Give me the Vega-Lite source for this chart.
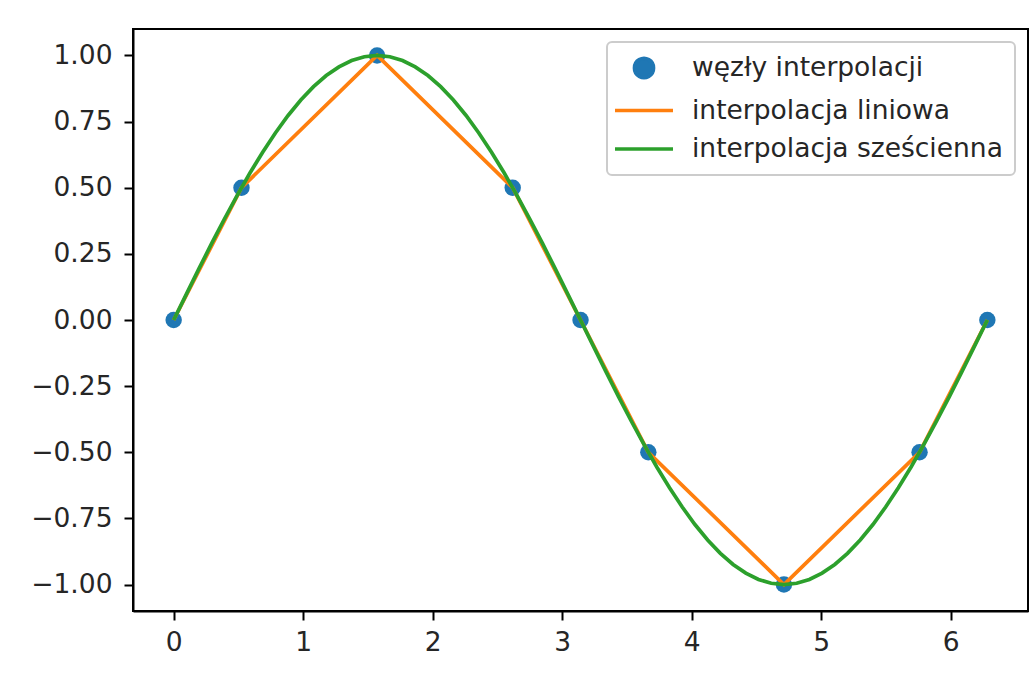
{
  "$schema": "https://vega.github.io/schema/vega-lite/v6.json",
  "width": 895,
  "height": 582,
  "autosize": "none",
  "padding": {"left": 133, "top": 29, "right": 8, "bottom": 62},
  "background": "white",
  "config": {
    "view": {"stroke": "#000000", "strokeWidth": 2},
    "axis": {
      "domainColor": "#000000",
      "domainWidth": 2,
      "tickColor": "#000000",
      "tickWidth": 2,
      "tickSize": 9,
      "labelFont": "DejaVu Sans",
      "labelFontSize": 26.5,
      "labelColor": "#262626",
      "grid": false,
      "title": null
    }
  },
  "datasets": {
    "nodes": [
      {"series": "węzły interpolacji", "x": 0, "y": 0},
      {"series": "węzły interpolacji", "x": 0.5236, "y": 0.5},
      {"series": "węzły interpolacji", "x": 1.5708, "y": 1},
      {"series": "węzły interpolacji", "x": 2.618, "y": 0.5},
      {"series": "węzły interpolacji", "x": 3.1416, "y": 0},
      {"series": "węzły interpolacji", "x": 3.6652, "y": -0.5},
      {"series": "węzły interpolacji", "x": 4.7124, "y": -1},
      {"series": "węzły interpolacji", "x": 5.7596, "y": -0.5},
      {"series": "węzły interpolacji", "x": 6.2832, "y": 0}
    ],
    "linear": [
      {"series": "interpolacja liniowa", "x": 0, "y": 0},
      {"series": "interpolacja liniowa", "x": 0.5236, "y": 0.5},
      {"series": "interpolacja liniowa", "x": 1.5708, "y": 1},
      {"series": "interpolacja liniowa", "x": 2.618, "y": 0.5},
      {"series": "interpolacja liniowa", "x": 3.1416, "y": 0},
      {"series": "interpolacja liniowa", "x": 3.6652, "y": -0.5},
      {"series": "interpolacja liniowa", "x": 4.7124, "y": -1},
      {"series": "interpolacja liniowa", "x": 5.7596, "y": -0.5},
      {"series": "interpolacja liniowa", "x": 6.2832, "y": 0}
    ],
    "cubic": [
      {"series": "interpolacja sześcienna", "x": 0, "y": 0},
      {"series": "interpolacja sześcienna", "x": 0.0982, "y": 0.098},
      {"series": "interpolacja sześcienna", "x": 0.1963, "y": 0.1951},
      {"series": "interpolacja sześcienna", "x": 0.2945, "y": 0.2903},
      {"series": "interpolacja sześcienna", "x": 0.3927, "y": 0.3827},
      {"series": "interpolacja sześcienna", "x": 0.4909, "y": 0.4714},
      {"series": "interpolacja sześcienna", "x": 0.589, "y": 0.5556},
      {"series": "interpolacja sześcienna", "x": 0.6872, "y": 0.6344},
      {"series": "interpolacja sześcienna", "x": 0.7854, "y": 0.7071},
      {"series": "interpolacja sześcienna", "x": 0.8836, "y": 0.773},
      {"series": "interpolacja sześcienna", "x": 0.9817, "y": 0.8315},
      {"series": "interpolacja sześcienna", "x": 1.0799, "y": 0.8819},
      {"series": "interpolacja sześcienna", "x": 1.1781, "y": 0.9239},
      {"series": "interpolacja sześcienna", "x": 1.2763, "y": 0.9569},
      {"series": "interpolacja sześcienna", "x": 1.3744, "y": 0.9808},
      {"series": "interpolacja sześcienna", "x": 1.4726, "y": 0.9952},
      {"series": "interpolacja sześcienna", "x": 1.5708, "y": 1},
      {"series": "interpolacja sześcienna", "x": 1.669, "y": 0.9952},
      {"series": "interpolacja sześcienna", "x": 1.7671, "y": 0.9808},
      {"series": "interpolacja sześcienna", "x": 1.8653, "y": 0.9569},
      {"series": "interpolacja sześcienna", "x": 1.9635, "y": 0.9239},
      {"series": "interpolacja sześcienna", "x": 2.0617, "y": 0.8819},
      {"series": "interpolacja sześcienna", "x": 2.1598, "y": 0.8315},
      {"series": "interpolacja sześcienna", "x": 2.258, "y": 0.773},
      {"series": "interpolacja sześcienna", "x": 2.3562, "y": 0.7071},
      {"series": "interpolacja sześcienna", "x": 2.4544, "y": 0.6344},
      {"series": "interpolacja sześcienna", "x": 2.5525, "y": 0.5556},
      {"series": "interpolacja sześcienna", "x": 2.6507, "y": 0.4714},
      {"series": "interpolacja sześcienna", "x": 2.7489, "y": 0.3827},
      {"series": "interpolacja sześcienna", "x": 2.8471, "y": 0.2903},
      {"series": "interpolacja sześcienna", "x": 2.9452, "y": 0.1951},
      {"series": "interpolacja sześcienna", "x": 3.0434, "y": 0.098},
      {"series": "interpolacja sześcienna", "x": 3.1416, "y": 0},
      {"series": "interpolacja sześcienna", "x": 3.2398, "y": -0.098},
      {"series": "interpolacja sześcienna", "x": 3.3379, "y": -0.1951},
      {"series": "interpolacja sześcienna", "x": 3.4361, "y": -0.2903},
      {"series": "interpolacja sześcienna", "x": 3.5343, "y": -0.3827},
      {"series": "interpolacja sześcienna", "x": 3.6325, "y": -0.4714},
      {"series": "interpolacja sześcienna", "x": 3.7306, "y": -0.5556},
      {"series": "interpolacja sześcienna", "x": 3.8288, "y": -0.6344},
      {"series": "interpolacja sześcienna", "x": 3.927, "y": -0.7071},
      {"series": "interpolacja sześcienna", "x": 4.0252, "y": -0.773},
      {"series": "interpolacja sześcienna", "x": 4.1233, "y": -0.8315},
      {"series": "interpolacja sześcienna", "x": 4.2215, "y": -0.8819},
      {"series": "interpolacja sześcienna", "x": 4.3197, "y": -0.9239},
      {"series": "interpolacja sześcienna", "x": 4.4179, "y": -0.9569},
      {"series": "interpolacja sześcienna", "x": 4.516, "y": -0.9808},
      {"series": "interpolacja sześcienna", "x": 4.6142, "y": -0.9952},
      {"series": "interpolacja sześcienna", "x": 4.7124, "y": -1},
      {"series": "interpolacja sześcienna", "x": 4.8106, "y": -0.9952},
      {"series": "interpolacja sześcienna", "x": 4.9087, "y": -0.9808},
      {"series": "interpolacja sześcienna", "x": 5.0069, "y": -0.9569},
      {"series": "interpolacja sześcienna", "x": 5.1051, "y": -0.9239},
      {"series": "interpolacja sześcienna", "x": 5.2033, "y": -0.8819},
      {"series": "interpolacja sześcienna", "x": 5.3014, "y": -0.8315},
      {"series": "interpolacja sześcienna", "x": 5.3996, "y": -0.773},
      {"series": "interpolacja sześcienna", "x": 5.4978, "y": -0.7071},
      {"series": "interpolacja sześcienna", "x": 5.596, "y": -0.6344},
      {"series": "interpolacja sześcienna", "x": 5.6941, "y": -0.5556},
      {"series": "interpolacja sześcienna", "x": 5.7923, "y": -0.4714},
      {"series": "interpolacja sześcienna", "x": 5.8905, "y": -0.3827},
      {"series": "interpolacja sześcienna", "x": 5.9887, "y": -0.2903},
      {"series": "interpolacja sześcienna", "x": 6.0868, "y": -0.1951},
      {"series": "interpolacja sześcienna", "x": 6.185, "y": -0.098},
      {"series": "interpolacja sześcienna", "x": 6.2832, "y": 0}
    ]
  },
  "encoding": {
    "x": {
      "field": "x",
      "type": "quantitative",
      "scale": {"domain": [-0.314, 6.597], "nice": false, "zero": false},
      "axis": {"values": [0, 1, 2, 3, 4, 5, 6], "format": "d", "labelPadding": 9}
    },
    "y": {
      "field": "y",
      "type": "quantitative",
      "scale": {"domain": [-1.1, 1.1], "nice": false, "zero": false},
      "axis": {"values": [-1, -0.75, -0.5, -0.25, 0, 0.25, 0.5, 0.75, 1], "format": ".2f", "labelPadding": 12}
    },
    "color": {
      "field": "series",
      "type": "nominal",
      "scale": {
        "domain": ["węzły interpolacji", "interpolacja liniowa", "interpolacja sześcienna"],
        "range": ["#1f77b4", "#ff7f0e", "#2ca02c"]
      },
      "legend": {
        "title": null,
        "orient": "top-right",
        "offset": 13,
        "padding": 12,
        "fillColor": "white",
        "strokeColor": "#cccccc",
        "cornerRadius": 5,
        "labelFont": "DejaVu Sans",
        "labelFontSize": 26.5,
        "labelColor": "#262626",
        "labelOffset": 45,
        "labelLimit": 600,
        "rowPadding": 10.5,
        "symbolSize": 576,
        "symbolStrokeWidth": 3.7,
        "encode": {
          "legend": {"update": {"strokeWidth": {"value": 2}}},
          "symbols": {
            "update": {
              "shape": {"signal": "datum.value == 'węzły interpolacji' ? 'M0.125,0A0.7917,0.7917,0,1,0,1.7083,0A0.7917,0.7917,0,1,0,0.125,0Z' : 'M-1.5,0H3.333'"},
              "size": {"value": 576},
              "fill": {"signal": "datum.value == 'węzły interpolacji' ? '#1f77b4' : 'transparent'"},
              "stroke": {"signal": "datum.value == 'interpolacja liniowa' ? '#ff7f0e' : (datum.value == 'interpolacja sześcienna' ? '#2ca02c' : 'transparent')"},
              "strokeWidth": {"value": 3.7},
              "opacity": {"value": 1}
            }
          }
        }
      }
    }
  },
  "layer": [
    {
      "data": {"name": "nodes"},
      "mark": {"type": "point", "filled": true, "size": 270, "opacity": 1}
    },
    {
      "data": {"name": "linear"},
      "mark": {"type": "line", "strokeWidth": 3.7}
    },
    {
      "data": {"name": "cubic"},
      "mark": {"type": "line", "strokeWidth": 3.7}
    }
  ]
}
